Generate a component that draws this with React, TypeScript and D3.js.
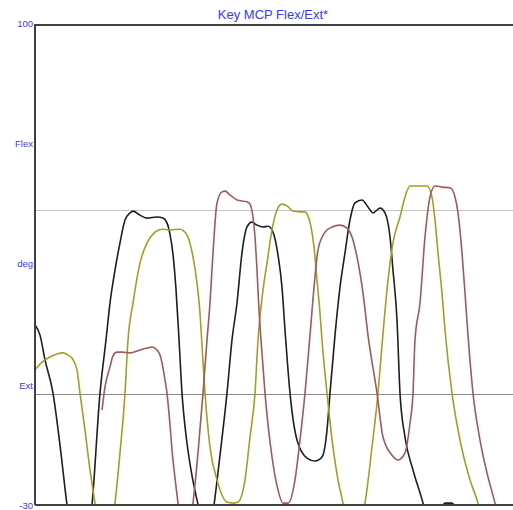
import React from "react";
import * as d3 from "d3";

// Joint angle traces (deg) sampled per frame; values below -30 fall outside the plot.
const blackTrace: [number, number][] = [
  [0, 18.8], [5, 16.0], [10, 9.3], [18, 0.3], [25, -13.8], [32, -30], [37, -39.5],
  [53, -39.5], [57, -30], [65, 0.3], [71, 14.7], [75, 24.7], [80, 33.6], [85, 41.0],
  [90, 47.2], [95, 49.1], [98, 49.6], [105, 48.5], [112, 47.7], [122, 48.0], [128, 47.7],
  [132, 46.4], [135, 43.3], [138, 37.9], [141, 28.4], [144, 14.9], [147, 0.3], [151, -11.1],
  [156, -20.5], [162, -28.6], [166, -33.0], [170, -36.8], [175, -36.8], [179, -30],
  [185, -16.5], [192, 0.3], [197, 14.7], [202, 24.7], [207, 38.3], [212, 45.3], [217, 46.6],
  [222, 45.8], [228, 45.3], [233, 45.5], [238, 43.9], [243, 37.7], [247, 29.0], [250, 17.4],
  [255, 0.3], [262, -12.4], [272, -17.3], [280, -18.1], [287, -17.0], [292, -9.7], [295, 0.3],
  [300, 16.0], [305, 29.0], [310, 38.3], [315, 47.2], [320, 51.8], [327, 52.6], [333, 50.7],
  [338, 49.1], [345, 50.4], [350, 49.1], [355, 42.6], [358, 33.6], [362, 20.1], [365, 0.3],
  [370, -11.6], [378, -20.5], [388, -29.5], [391, -32.7], [400, -34.0], [405, -31.4],
  [410, -29.5], [417, -29.5], [422, -31.4], [430, -36.8], [478, -39.5],
];

const oliveTrace: [number, number][] = [
  [0, 6.6], [7, 8.7], [15, 10.1], [22, 10.9], [28, 11.2], [33, 10.6], [37, 9.8], [42, 6.6],
  [45, 0.3], [50, -9.7], [55, -20.5], [60, -29.5], [64, -36.8], [76, -36.8], [80, -29.5],
  [85, -15.9], [90, 0.3], [93, 14.7], [98, 24.7], [105, 35.5], [112, 41.0], [120, 43.9],
  [127, 44.7], [135, 44.5], [145, 44.7], [152, 43.1], [158, 37.2], [162, 30.1], [165, 22.0],
  [167, 13.3], [170, 0.3], [175, -14.3], [182, -23.2], [192, -29.2], [198, -29.5],
  [203, -29.2], [210, -23.2], [215, -11.6], [220, 0.3], [223, 14.7], [228, 28.2], [232, 35.5],
  [237, 44.5], [242, 49.9], [247, 51.5], [252, 51.0], [258, 49.6], [265, 49.4], [270, 49.4],
  [273, 48.3], [276, 45.3], [279, 39.9], [282, 30.9], [285, 22.0], [287, 14.7], [292, 0.3],
  [298, -14.3], [303, -23.2], [308, -29.5], [312, -35.4], [325, -35.4], [330, -29.5],
  [337, -14.3], [343, 0.3], [347, 13.3], [352, 28.2], [358, 41.0], [365, 48.0], [370, 53.4],
  [375, 56.4], [392, 56.4], [397, 53.4], [400, 47.2], [403, 38.3], [407, 27.4], [410, 17.4],
  [417, 0.3], [425, -12.4], [435, -23.2], [443, -29.5], [448, -35.4], [478, -39.5],
];

const maroonTrace: [number, number][] = [
  [67, -4.3], [70, 2.0], [75, 7.4], [78, 10.4], [82, 11.4], [87, 11.4], [95, 11.2],
  [105, 12.0], [112, 12.5], [117, 12.8], [122, 12.0], [125, 10.6], [127, 8.5], [130, 3.9],
  [132, 0.3], [135, -8.3], [137, -15.1], [140, -22.7], [143, -29.5], [146, -35.4],
  [155, -35.4], [158, -29.5], [163, -15.9], [168, 0.3], [172, 14.7], [175, 24.7], [178, 38.3],
  [182, 51.8], [187, 54.8], [190, 55.0], [195, 54.0], [202, 52.6], [212, 52.1], [215, 51.5],
  [218, 48.0], [220, 42.6], [222, 33.6], [224, 22.8], [226, 14.7], [230, 0.3], [237, -17.0],
  [243, -25.9], [248, -29.5], [253, -29.5], [260, -23.2], [265, -12.4], [270, 0.3],
  [275, 16.0], [280, 31.8], [283, 39.1], [290, 43.9], [297, 45.3], [305, 45.8], [312, 45.0],
  [317, 42.6], [322, 37.2], [328, 27.4], [333, 16.0], [342, 0.3], [348, -11.6], [357, -16.5],
  [363, -17.8], [370, -15.9], [375, -7.8], [378, 0.3], [380, 14.7], [385, 24.7], [390, 42.6],
  [395, 53.4], [400, 56.4], [407, 56.1], [415, 55.9], [420, 53.4], [423, 49.1], [427, 38.3],
  [430, 27.4], [433, 16.0], [438, 0.3], [445, -12.4], [452, -21.3], [460, -29.5],
  [465, -35.4], [478, -39.5],
];

const series = [
  { name: "trial1", color: "#1e1e1e", data: blackTrace },
  { name: "trial2", color: "#a3a020", data: oliveTrace },
  { name: "trial3", color: "#a05a5a", data: maroonTrace },
];

const yLabels: { text: string; value: number }[] = [
  { text: "100", value: 100.3 },
  { text: "Flex", value: 67.8 },
  { text: "deg", value: 35.3 },
  { text: "Ext", value: 2.2 },
  { text: "-30", value: -30.3 },
];

const refLines = [
  { value: 0, color: "#8a8a8a" },
  { value: 50, color: "#c4c4c4" },
];

const W = 513;
const H = 510;
const left = 35;
const top = 25;
const bottom = 505;

export default function App() {
  const x = d3.scaleLinear().domain([0, 478]).range([left, W]);
  const y = d3.scaleLinear().domain([-30, 100]).range([bottom, top]);
  const line = d3
    .line<[number, number]>()
    .x((d) => x(d[0]))
    .y((d) => y(d[1]))
    .curve(d3.curveMonotoneX);

  return (
    <svg
      width={W}
      height={H}
      style={{ position: "absolute", left: 0, top: 0, background: "#fff" }}
      fontFamily="Liberation Sans, Arial, sans-serif"
    >
      <defs>
        <clipPath id="plot">
          <rect x={left} y={top} width={W - left} height={bottom - top} />
        </clipPath>
      </defs>
      <text x={273} y={19} textAnchor="middle" fontSize={13} fill="#3a3aff">
        Key MCP Flex/Ext*
      </text>
      {refLines.map((r) => (
        <line
          key={r.value}
          x1={left}
          x2={W}
          y1={Math.round(y(r.value)) + 0.5}
          y2={Math.round(y(r.value)) + 0.5}
          stroke={r.color}
          strokeWidth={1}
        />
      ))}
      <g clipPath="url(#plot)">
        {series.map((s) => (
          <path
            key={s.name}
            d={line(s.data) ?? ""}
            fill="none"
            stroke={s.color}
            strokeWidth={1.6}
          />
        ))}
      </g>
      <path
        d={`M${left},${bottom}V${top}H${W}M${left},${bottom}H${W}`}
        fill="none"
        stroke="#404040"
        strokeWidth={2}
      />
      {yLabels.map((l) => (
        <text
          key={l.text}
          x={33}
          y={y(l.value) + 3}
          textAnchor="end"
          fontSize={9.5}
          fill="#3a3aff"
        >
          {l.text}
        </text>
      ))}
    </svg>
  );
}
